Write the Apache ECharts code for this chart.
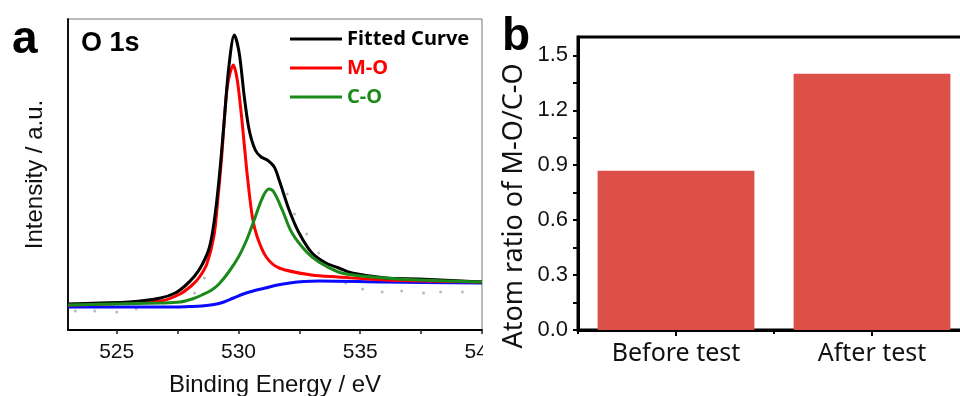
<!DOCTYPE html>
<html>
<head>
<meta charset="utf-8">
<script src="https://cdn.jsdelivr.net/npm/echarts@6/dist/echarts.min.js"></script>
<style>html,body{margin:0;padding:0;background:#fff;}#c{width:960px;height:396px;}</style>
</head>
<body>
<div id="c"></div>
<script>
// ---- Panel a: O 1s XPS spectrum (binding energy eV, intensity a.u.) ----
const fitE = [523.0, 524.3, 525.5, 526.8, 527.4, 527.8, 528.2, 528.5, 528.8, 529.0, 529.2, 529.4, 529.6, 529.83, 530.03, 530.24, 530.44, 530.69, 530.93, 531.18, 531.47, 531.67, 532.08, 532.49, 533.02, 533.59, 534.12, 534.66, 536.05, 537.4, 540.0];
const fitI = [26, 27, 28, 32, 37, 44, 54, 65, 82, 108, 150, 205, 262, 295, 277, 233, 200, 180, 173, 170, 163, 150, 120, 97, 77, 67, 62, 57, 52, 51, 48];

const moE = [523.0, 526.8, 527.6, 528.1, 528.4, 528.7, 529.0, 529.15, 529.3, 529.54, 529.79, 529.95, 530.12, 530.24, 530.36, 530.57, 530.77, 531.14, 531.67, 533.0, 534.1, 536.0, 540.0];
const moI = [25, 29, 36, 45, 53, 66, 95, 130, 170, 243, 265, 250, 215, 185, 155, 113, 93, 73, 62, 55, 53, 50, 48];

const coE = [523.0, 526.8, 527.6, 528.1, 528.5, 528.9, 529.2, 529.6, 530.0, 530.3, 530.6, 531.0, 531.25, 531.45, 531.8, 532.2, 532.8, 533.3, 534.1, 534.7, 536.0, 537.4, 540.0];
const coI = [25, 27, 28, 31, 35, 40, 46, 58, 73, 88, 107, 133, 141, 138, 120, 97, 78, 68, 58, 55, 52, 50, 48];

const bgE = [523.0, 527.0, 528.0, 528.5, 529.0, 529.4, 529.8, 530.2, 530.6, 531.1, 531.6, 532.1, 532.7, 533.3, 536.0, 540.0];
const bgI = [23, 23, 23.5, 24, 25.5, 28, 32, 36, 39, 42, 45, 47, 48.5, 49, 48, 47];

const rawE = [523.3, 524.1, 525.0, 525.8, 528.2, 528.6, 531.6, 532.0, 532.3, 532.8, 533.3, 534.4, 535.1, 535.9, 536.7, 537.6, 538.3, 539.2];
const rawI = [19, 19, 18, 21, 37, 52, 155, 136, 116, 96, 77, 47, 41, 38, 39, 37, 38, 38];

const energyTicks = [525, 527.5, 530, 532.5, 535, 537.5, 540];
const energyLabels = [525, 530, 535, 540];

// ---- Panel b: atom ratio ----
const ratioCategories = ['Before test', 'After test'];
const ratioValues = [0.87, 1.40];
const ratioTicks = [0, 0.15, 0.3, 0.45, 0.6, 0.75, 0.9, 1.05, 1.2, 1.35, 1.5];
const ratioLabels = [0, 0.3, 0.6, 0.9, 1.2, 1.5];

const zip = (a, b) => a.map((v, i) => [v, b[i]]);

const ARIAL = '"Liberation Sans", Arial, sans-serif';
const SEGOE = '"Noto Sans", "Open Sans", sans-serif';

const chart = echarts.init(document.getElementById('c'), null, {renderer: 'canvas'});
chart.setOption({
  animation: false,
  backgroundColor: '#fff',
  grid: [
    {left: 68, top: 19, width: 414, height: 311, show: true, borderColor: '#777', borderWidth: 1,
      outerBoundsMode: 'none', containLabel: false},
    {left: 578, top: 37, width: 392, height: 293, show: true, borderColor: '#000', borderWidth: 3,
      outerBoundsMode: 'none', containLabel: false}
  ],
  xAxis: [
    {
      type: 'value', gridIndex: 0, min: 523, max: 540,
      axisLine: {show: true, onZero: false, lineStyle: {color: '#000', width: 2}},
      axisTick: {show: true, inside: false, customValues: energyTicks, length: 4, lineStyle: {color: '#222', width: 1.5}},
      axisLabel: {customValues: energyLabels, margin: 12, fontFamily: ARIAL, fontSize: 21, color: '#111'},
      splitLine: {show: false},
      name: 'Binding Energy / eV', nameLocation: 'middle', nameGap: 43,
      nameTextStyle: {fontFamily: ARIAL, fontSize: 24, color: '#111'}
    },
    {
      type: 'category', gridIndex: 1, data: ratioCategories,
      axisLine: {show: true, lineStyle: {color: '#000', width: 3}},
      axisTick: {show: true, inside: false, alignWithLabel: true, length: 6, lineStyle: {color: '#000', width: 2}},
      axisLabel: {margin: 11, fontFamily: SEGOE, fontSize: 25, color: '#111'},
      splitLine: {show: false}
    },
    {
      type: 'value', gridIndex: 1, min: 0, max: 2, interval: 1, position: 'bottom',
      axisLine: {show: false},
      axisTick: {show: true, inside: false, length: 4, lineStyle: {color: '#000', width: 2}},
      axisLabel: {show: false},
      splitLine: {show: false}
    }
  ],
  yAxis: [
    {
      type: 'value', gridIndex: 0, min: 0, max: 311,
      axisLine: {show: true, lineStyle: {color: '#111', width: 2}},
      axisTick: {show: false}, axisLabel: {show: false}, splitLine: {show: false},
      name: 'Intensity / a.u.', nameLocation: 'middle', nameGap: 21,
      nameTextStyle: {fontFamily: ARIAL, fontSize: 24, color: '#111'}
    },
    {
      type: 'value', gridIndex: 1, min: 0, max: 1.6,
      axisLine: {show: true, lineStyle: {color: '#000', width: 3}},
      axisTick: {show: true, inside: false, customValues: ratioTicks, length: 5, lineStyle: {color: '#000', width: 2}},
      axisLabel: {customValues: ratioLabels, margin: 10, fontFamily: ARIAL, fontSize: 22, color: '#111',
        formatter: v => Number(v).toFixed(1)},
      splitLine: {show: false}
    }
  ],
  legend: {
    orient: 'vertical', left: 290, top: 29, padding: 0, itemGap: 9, itemWidth: 52, itemHeight: 3,
    icon: 'rect', selectedMode: false,
    textStyle: {fontFamily: SEGOE, fontSize: 20, fontWeight: 'bold'},
    data: [
      {name: 'Fitted Curve', textStyle: {color: '#000'}},
      {name: 'M-O', textStyle: {color: '#f00'}},
      {name: 'C-O', textStyle: {color: '#1a8a1a'}}
    ]
  },
  series: [
    {type: 'scatter', name: 'raw', xAxisIndex: 0, yAxisIndex: 0, data: zip(rawE, rawI),
      symbolSize: 3, itemStyle: {color: '#a9a9b5'}, z: 1},
    {type: 'line', name: 'Background', xAxisIndex: 0, yAxisIndex: 0, data: zip(bgE, bgI),
      showSymbol: false, smooth: 0.35, lineStyle: {color: '#0a0aff', width: 3}, z: 2},
    {type: 'line', name: 'C-O', xAxisIndex: 0, yAxisIndex: 0, data: zip(coE, coI),
      showSymbol: false, smooth: 0.35, lineStyle: {color: '#1a8a1a', width: 3}, itemStyle: {color: '#1a8a1a'}, z: 4},
    {type: 'line', name: 'M-O', xAxisIndex: 0, yAxisIndex: 0, data: zip(moE, moI),
      showSymbol: false, smooth: 0.3, lineStyle: {color: '#f00', width: 3}, itemStyle: {color: '#f00'}, z: 3},
    {type: 'line', name: 'Fitted Curve', xAxisIndex: 0, yAxisIndex: 0, data: zip(fitE, fitI),
      showSymbol: false, smooth: 0.3, lineStyle: {color: '#000', width: 3}, itemStyle: {color: '#000'}, z: 3},
    {type: 'bar', name: 'ratio', xAxisIndex: 1, yAxisIndex: 1, data: ratioValues,
      barCategoryGap: '20%', itemStyle: {color: '#dd5048'}}
  ],
  graphic: [
    {type: 'rect', left: 483, top: 336, shape: {width: 20, height: 30}, style: {fill: '#fff'}, z: 100},
    {type: 'text', left: 12, top: 17, style: {text: 'a', font: 'bold 46px ' + ARIAL, fill: '#000'}, z: 100},
    {type: 'text', left: 81, top: 30, style: {text: 'O 1s', font: 'bold 27px ' + ARIAL, fill: '#000'}, z: 100},
    {type: 'text', left: 502, top: 14, style: {text: 'b', font: 'bold 46px ' + ARIAL, fill: '#000'}, z: 100},
    {type: 'text', x: 514, y: 206, rotation: Math.PI / 2,
      style: {text: 'Atom ratio of M-O/C-O', font: '27px ' + SEGOE, fill: '#111', align: 'center', verticalAlign: 'middle'}, z: 100}
  ]
});
</script>
</body>
</html>
